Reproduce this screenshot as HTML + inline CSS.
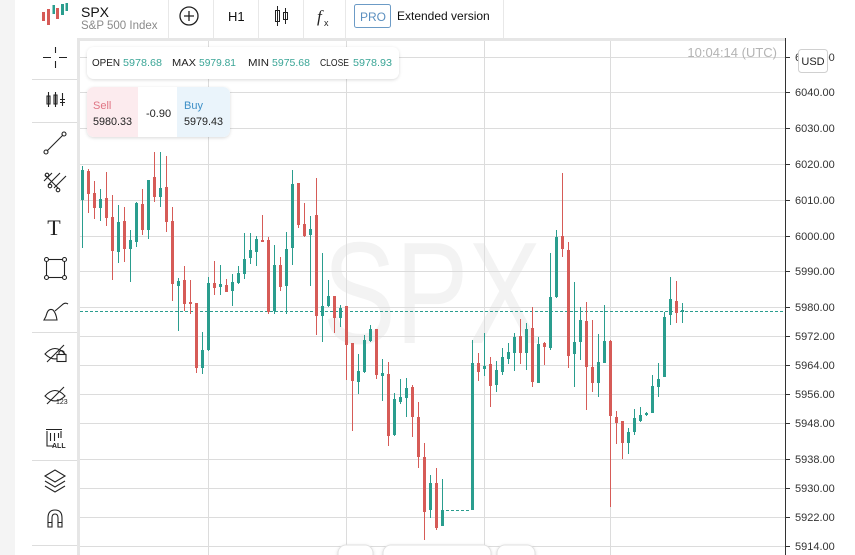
<!DOCTYPE html>
<html><head><meta charset="utf-8">
<style>
html,body{margin:0;padding:0;background:#fff;}
body{width:855px;height:555px;overflow:hidden;}
svg{display:block;font-family:"Liberation Sans",Arial,sans-serif;}
</style></head>
<body>
<svg width="855" height="555" viewBox="0 0 855 555" xmlns="http://www.w3.org/2000/svg">
<defs>
<filter id="sh" x="-10%" y="-20%" width="120%" height="150%">
<feDropShadow dx="0" dy="1" stdDeviation="1.5" flood-color="#000" flood-opacity="0.15"/>
</filter>
</defs>
<rect width="855" height="555" fill="#fff"/>
<rect width="15" height="555" fill="#f4f4f4"/>

<path fill="#d65b57" d="M42 12h3v9h-3zM47 9h3v16h-3zM56 8h3v11h-3z"/>
<path fill="#2a9d8e" d="M52.5 5h2.5v9h-2.5zM61 4h3v11h-3zM65.5 3h2.5v8h-2.5z"/>
<text x="81" y="17" font-size="14" fill="#111">SPX</text>
<text x="81" y="29" font-size="11.5" fill="#8a8a8a">S&amp;P 500 Index</text>
<path stroke="#e8e8e8" d="M168.5 0V38M213.5 0V38M258.5 0V38M303.5 0V38M345.5 0V38M503.5 0V38"/>
<circle cx="189" cy="16" r="9" fill="none" stroke="#222" stroke-width="1.3"/>
<path stroke="#222" stroke-width="1.3" d="M184 16H194M189 11V21"/>
<text x="228" y="21" font-size="13" fill="#111">H1</text>
<path stroke="#222" fill="none" d="M277.5 6V26M275.5 10.5h4v11h-4zM285.5 8V24M283.5 12.5h4v7h-4z"/>
<text x="317" y="22" font-size="17" font-style="italic" font-family="Liberation Serif,serif" fill="#222">f</text>
<text x="324" y="26" font-size="9" fill="#222">x</text>
<rect x="354.5" y="4.5" width="36" height="23" rx="2" fill="#fff" stroke="#6c9bc6"/>
<text x="360" y="21" font-size="12" fill="#5b8fbf">PRO</text>
<text x="397" y="20" font-size="12" fill="#111">Extended version</text>

<path stroke="#ddd" d="M32 79.5H77M32 122.5H77M32 332.5H77M32 460.5H77M32 545.5H77"/>
<g stroke="#222" stroke-width="1.1" fill="none">
<path d="M43 57.5H51M59 57.5H67M55.5 47V53M55.5 61V68"/>
<path d="M48.5 92V107M47 96h3v8h-3zM55.5 92V107M54 95h3v9h-3zM62.5 93V106M60 99.5H65M60 102.5H65"/>
<path d="M47 151L63 135"/>
<circle cx="46" cy="152" r="2"/><circle cx="64" cy="134" r="2"/>
<path d="M45 175L58 188M48 185L60 173M54 188L66 176M44 181L52 173"/>
<circle cx="47" cy="175" r="1.8"/><circle cx="50" cy="186" r="1.8"/><circle cx="58" cy="190" r="1.8"/>
<rect x="46.5" y="259.5" width="18" height="18"/>
<circle cx="46.5" cy="259.5" r="2" fill="#fff"/><circle cx="64.5" cy="259.5" r="2" fill="#fff"/>
<circle cx="46.5" cy="277.5" r="2" fill="#fff"/><circle cx="64.5" cy="277.5" r="2" fill="#fff"/>
<path d="M44 320L57 320Q56 313 53 310Q49 308 47 313Q46 317 44 320Z"/>
<path d="M55 311L62 305Q65 302 68 304"/>
<path d="M45 354Q55 343 65 354Q55 364 45 354Z"/>
<path d="M47 362L64 345"/>
<rect x="57" y="354.5" width="9" height="7" fill="#fff"/>
<path d="M59 354.5V352Q61.5 349 64 352V354.5"/>
<path d="M45 396Q55 385 65 396Q55 406 45 396Z"/>
<path d="M47 404L64 387"/>
<path d="M46 429.5H62M47 431V446H54M61 431V438M50.5 433V441M54.5 433V441M58.5 433V438"/>
<path d="M45 476L55 470L65 476L55 482ZM45 481L55 487L65 481M45 486L55 492L65 486"/>
<path d="M48 527V518Q48 510 55 510Q62 510 62 518V527H58V518Q58 514 55 514Q52 514 52 518V527ZM48 522.5H52M58 522.5H62"/>
</g>
<text x="54" y="235" font-size="22" font-family="Liberation Serif,serif" fill="#222" text-anchor="middle">T</text>
<text x="56" y="404" font-size="7" fill="#222">123</text>
<text x="52" y="448" font-size="7" font-weight="bold" fill="#222">ALL</text>

<rect x="77" y="38" width="708" height="3" fill="#e6e6e6"/>
<rect x="77" y="38" width="3" height="517" fill="#e6e6e6"/>

<text x="323" y="343" font-size="145" fill="#f3f3f3" textLength="218" lengthAdjust="spacingAndGlyphs">SPX</text>

<path stroke="#dcdcdc" d="M80 57.5H785M80 92.5H785M80 128.5H785M80 164.5H785M80 200.5H785M80 236.5H785M80 271.5H785M80 307.5H785M80 336.5H785M80 365.5H785M80 394.5H785M80 423.5H785M80 459.5H785M80 488.5H785M80 517.5H785M80 546.5H785M208.5 41V555M346.5 41V555M484.5 41V555M610.5 41V555"/>

<text x="777" y="57" font-size="13" fill="#b4b4b4" text-anchor="end">10:04:14 (UTC)</text>

<path stroke="#2a9d8e" stroke-dasharray="3,2" d="M80 311.5H785M446 510.5H471"/>

<path fill="#2a9d8e" d="M82 166h1V248h-1zM81 170h3V200h-3z
M100 189h1V221h-1zM99 199h3V208h-3z
M118 205h1V263h-1zM117 222h3V252h-3z
M130 230h1V282h-1zM129 240h3V249h-3z
M136 202h1V247h-1zM135 203h3V242h-3z
M148 180h1V239h-1zM147 180h3V230h-3z
M160 152h1V207h-1zM159 188h3V197h-3z
M178 278h1V331h-1zM177 281h3V286h-3z
M202 332h1V374h-1zM201 350h3V368h-3z
M208 277h1V351h-1zM207 283h3V350h-3z
M220 265h1V295h-1zM219 284h3V287h-3z
M232 274h1V306h-1zM231 282h3V291h-3z
M238 266h1V284h-1zM237 273h3V283h-3z
M244 233h1V279h-1zM243 259h3V274h-3z
M250 233h1V264h-1zM249 250h3V258h-3z
M256 236h1V266h-1zM255 239h3V252h-3z
M274 245h1V314h-1zM273 265h3V311h-3z
M286 232h1V314h-1zM285 249h3V286h-3z
M292 170h1V265h-1zM291 184h3V248h-3z
M310 216h1V286h-1zM309 229h3V235h-3z
M322 253h1V342h-1zM321 306h3V316h-3z
M328 280h1V307h-1zM327 296h3V306h-3z
M340 305h1V327h-1zM339 308h3V318h-3z
M358 354h1V394h-1zM357 371h3V382h-3z
M364 335h1V373h-1zM363 340h3V372h-3z
M370 325h1V342h-1zM369 329h3V341h-3z
M382 359h1V401h-1zM381 373h3V376h-3z
M394 393h1V436h-1zM393 399h3V435h-3z
M400 379h1V404h-1zM399 397h3V402h-3z
M406 378h1V417h-1zM405 388h3V398h-3z
M430 475h1V518h-1zM429 483h3V510h-3z
M442 479h1V526h-1zM441 510h3V526h-3z
M472 340h1V510h-1zM471 363h3V510h-3z
M484 333h1V376h-1zM483 366h3V369h-3z
M496 361h1V392h-1zM495 370h3V385h-3z
M502 348h1V375h-1zM501 357h3V372h-3z
M508 343h1V364h-1zM507 352h3V359h-3z
M514 333h1V371h-1zM513 337h3V353h-3z
M526 323h1V370h-1zM525 329h3V353h-3z
M538 337h1V383h-1zM537 344h3V383h-3z
M550 253h1V350h-1zM549 297h3V348h-3z
M556 230h1V298h-1zM555 237h3V297h-3z
M574 282h1V387h-1zM573 342h3V354h-3z
M580 307h1V360h-1zM579 320h3V342h-3z
M598 334h1V397h-1zM597 362h3V383h-3z
M604 305h1V363h-1zM603 341h3V363h-3z
M628 428h1V454h-1zM627 432h3V443h-3z
M634 409h1V435h-1zM633 418h3V432h-3z
M640 407h1V422h-1zM639 415h3V421h-3z
M646 412h1V416h-1zM645 413h3V415h-3z
M652 375h1V413h-1zM651 386h3V413h-3z
M658 363h1V397h-1zM657 379h3V387h-3z
M664 312h1V377h-1zM663 317h3V377h-3z
M670 277h1V325h-1zM669 299h3V315h-3z
M682 303h1V323h-1zM681 310h3V312h-3z"/>

<path fill="#d65b57" d="M88 169h1V213h-1zM87 171h3V194h-3z
M94 181h1V219h-1zM93 193h3V208h-3z
M106 172h1V226h-1zM105 198h3V218h-3z
M112 195h1V280h-1zM111 217h3V251h-3z
M124 207h1V262h-1zM123 221h3V249h-3z
M142 189h1V235h-1zM141 204h3V230h-3z
M154 152h1V202h-1zM153 177h3V197h-3z
M166 156h1V232h-1zM165 187h3V222h-3z
M172 207h1V301h-1zM171 221h3V284h-3z
M184 266h1V311h-1zM183 280h3V304h-3z
M190 280h1V314h-1zM189 302h3V304h-3z
M196 303h1V373h-1zM195 303h3V368h-3z
M214 261h1V295h-1zM213 283h3V288h-3z
M226 279h1V292h-1zM225 285h3V292h-3z
M262 215h1V242h-1zM261 240h3V242h-3z
M268 237h1V314h-1zM267 240h3V312h-3z
M280 257h1V291h-1zM279 265h3V287h-3z
M298 183h1V228h-1zM297 183h3V225h-3z
M304 203h1V237h-1zM303 224h3V236h-3z
M316 178h1V335h-1zM315 215h3V316h-3z
M334 296h1V333h-1zM333 296h3V318h-3z
M346 306h1V380h-1zM345 306h3V345h-3z
M352 343h1V431h-1zM351 343h3V381h-3z
M376 329h1V379h-1zM375 329h3V375h-3z
M388 362h1V446h-1zM387 374h3V436h-3z
M412 385h1V437h-1zM411 387h3V417h-3z
M418 402h1V468h-1zM417 417h3V457h-3z
M424 443h1V540h-1zM423 457h3V512h-3z
M436 468h1V530h-1zM435 483h3V528h-3z
M478 353h1V381h-1zM477 363h3V372h-3z
M490 357h1V407h-1zM489 364h3V386h-3z
M520 319h1V364h-1zM519 336h3V353h-3z
M532 307h1V387h-1zM531 328h3V382h-3z
M544 342h1V365h-1zM543 343h3V347h-3z
M562 173h1V257h-1zM561 236h3V249h-3z
M568 242h1V368h-1zM567 250h3V356h-3z
M586 302h1V410h-1zM585 321h3V367h-3z
M592 320h1V392h-1zM591 367h3V383h-3z
M610 340h1V507h-1zM609 341h3V416h-3z
M616 411h1V444h-1zM615 417h3V423h-3z
M622 421h1V459h-1zM621 421h3V443h-3z
M676 281h1V323h-1zM675 301h3V313h-3z"/>

<rect x="785" y="38" width="1" height="517" fill="#333"/>
<path stroke="#333" d="M786 57.5h4M786 92.5h4M786 128.5h4M786 164.5h4M786 200.5h4M786 236.5h4M786 271.5h4M786 307.5h4M786 336.5h4M786 365.5h4M786 394.5h4M786 423.5h4M786 459.5h4M786 488.5h4M786 517.5h4M786 546.5h4"/>
<g font-size="11" fill="#333">
<text x="795" y="61">6050.00</text>
<text x="795" y="96">6040.00</text>
<text x="795" y="132">6030.00</text>
<text x="795" y="168">6020.00</text>
<text x="795" y="204">6010.00</text>
<text x="795" y="240">6000.00</text>
<text x="795" y="275">5990.00</text>
<text x="795" y="311">5980.00</text>
<text x="795" y="340">5972.00</text>
<text x="795" y="369">5964.00</text>
<text x="795" y="398">5956.00</text>
<text x="795" y="427">5948.00</text>
<text x="795" y="463">5938.00</text>
<text x="795" y="492">5930.00</text>
<text x="795" y="521">5922.00</text>
<text x="795" y="550">5914.00</text>
</g>
<rect x="798.5" y="49.5" width="29" height="23" rx="3" fill="#fff" stroke="#d0d0d0"/>
<text x="813" y="65" font-size="11" fill="#222" text-anchor="middle">USD</text>

<rect x="87" y="47" width="312" height="32" rx="7" fill="#fff" filter="url(#sh)"/>
<g font-size="10.5">
<text x="92" y="66" fill="#222" textLength="28" lengthAdjust="spacingAndGlyphs">OPEN</text>
<text x="123" y="66" fill="#3aa596" textLength="39" lengthAdjust="spacingAndGlyphs">5978.68</text>
<text x="172" y="66" fill="#222" textLength="24" lengthAdjust="spacingAndGlyphs">MAX</text>
<text x="199" y="66" fill="#3aa596" textLength="37" lengthAdjust="spacingAndGlyphs">5979.81</text>
<text x="248" y="66" fill="#222" textLength="21" lengthAdjust="spacingAndGlyphs">MIN</text>
<text x="272" y="66" fill="#3aa596" textLength="38" lengthAdjust="spacingAndGlyphs">5975.68</text>
<text x="320" y="66" fill="#222" textLength="29" lengthAdjust="spacingAndGlyphs">CLOSE</text>
<text x="353" y="66" fill="#3aa596" textLength="39" lengthAdjust="spacingAndGlyphs">5978.93</text>
</g>

<rect x="87" y="87" width="143" height="50" rx="7" fill="#fff" filter="url(#sh)"/>
<path d="M94 87H138V137H94A7 7 0 0 1 87 130V94A7 7 0 0 1 94 87Z" fill="#fcebee"/>
<path d="M177 87H223A7 7 0 0 1 230 94V130A7 7 0 0 1 223 137H177Z" fill="#eaf4fb"/>
<g font-size="11">
<text x="93" y="109" fill="#e07584">Sell</text>
<text x="93" y="125" fill="#222" textLength="39" lengthAdjust="spacingAndGlyphs">5980.33</text>
<text x="146" y="117" fill="#222">-0.90</text>
<text x="184" y="109" fill="#3d8fc7">Buy</text>
<text x="184" y="125" fill="#222" textLength="39" lengthAdjust="spacingAndGlyphs">5979.43</text>
</g>

<g fill="#fff" stroke="#e2e2e2" filter="url(#sh)">
<rect x="338" y="545" width="35" height="20" rx="8"/>
<rect x="383" y="545" width="108" height="20" rx="8"/>
<rect x="497" y="545" width="38" height="20" rx="8"/>
</g>
</svg>
</body></html>
